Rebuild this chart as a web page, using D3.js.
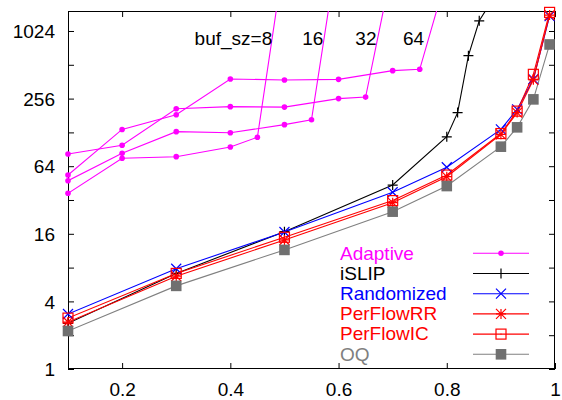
<!DOCTYPE html>
<html><head><meta charset="utf-8">
<script src="https://cdn.jsdelivr.net/npm/d3@7"></script>
<style>body{margin:0;background:#fff}svg{display:block}text{font-family:"Liberation Sans",Arial,sans-serif;font-size:19px}</style>
</head><body>
<script>
// ---- data ----
const xTickValues = [0.2, 0.4, 0.6, 0.8, 1];
const xTickLabels = ["0.2", "0.4", "0.6", "0.8", "1"];
const yTickValues = [1, 2, 4, 8, 16, 32, 64, 128, 256, 512, 1024];
const yLabelValues = [1, 4, 16, 64, 256, 1024];

const seriesNames = ["Adaptive", "iSLIP", "Randomized", "PerFlowRR", "PerFlowIC", "OQ"];
const seriesColors = ["#ff00ff", "#000000", "#0000ff", "#ff0000", "#ff0000", "#808080"];
const seriesMarkers = ["dot", "plus", "cross", "star", "square", "fsquare"];

const loads = [0.1, 0.3, 0.5, 0.7, 0.8, 0.9, 0.93, 0.96, 0.99];
const randomized = [3.09, 7.82, 16.6, 37.5, 62.6, 136, 205, 382, 1390];
const perFlowRR = [2.62, 6.7, 14.1, 30.3, 51.6, 123, 192, 376, 1420];
const perFlowIC = [2.84, 7.1, 14.9, 31.6, 53.4, 125, 198, 421, 1500];
const oq = [2.18, 5.5, 11.5, 25.2, 42.6, 95.5, 142, 252, 777];

const islipLoads = [0.1, 0.3, 0.5, 0.7, 0.8, 0.82, 0.84, 0.86, 0.88];
const islip = [2.55, 7.1, 16.7, 43.5, 117, 192, 617, 1262, 1800];

const bufSizes = [8, 16, 32, 64];
const bufLabels = ["buf_sz=8", "16", "32", "64"];
const bufLabelX = [0.334, 0.533, 0.631, 0.719];
const adaptiveLoads8 = [0.1, 0.2, 0.3, 0.4, 0.45, 0.5];
const adaptive8 = [36.7, 75.3, 77.8, 94.9, 115.8, 4800];
const adaptiveLoads16 = [0.1, 0.2, 0.3, 0.4, 0.5, 0.55, 0.6];
const adaptive16 = [47.5, 83.3, 130, 127, 150, 166, 6000];
const adaptiveLoads32 = [0.1, 0.2, 0.3, 0.4, 0.5, 0.6, 0.65, 0.7];
const adaptive32 = [82.2, 98.2, 208, 217, 215, 256, 264, 3960];
const adaptiveLoads64 = [0.1, 0.2, 0.3, 0.4, 0.5, 0.6, 0.7, 0.75, 0.8];
const adaptive64 = [53.4, 136, 184, 383, 375, 380, 454, 467, 3190];

// ---- layout ----
const W = 562, H = 400;
const m = {left: 68, right: 7, top: 11, bottom: 31};
const svg = d3.select("body").append("svg").attr("width", W).attr("height", H);

const x = d3.scaleLinear().domain([0.1, 1]).range([m.left, W - m.right]);
const y = d3.scaleLog().base(2).domain([1, 1543]).range([H - m.bottom, m.top]);

svg.append("defs").append("clipPath").attr("id", "clip")
  .append("rect").attr("x", m.left).attr("y", m.top)
  .attr("width", W - m.left - m.right).attr("height", H - m.top - m.bottom);

// axes (ticks inward, on all four sides)
const tl = 6;
const axB = d3.axisBottom(x).tickValues(xTickValues).tickSize(-tl).tickPadding(tl + 10)
  .tickFormat((d, i) => xTickLabels[i]);
const axT = d3.axisTop(x).tickValues(xTickValues).tickSize(-tl).tickFormat("");
const axL = d3.axisLeft(y).tickValues(yTickValues).tickSize(-tl).tickPadding(tl + 13)
  .tickFormat(d => yLabelValues.includes(d) ? String(d) : "");
const axR = d3.axisRight(y).tickValues(yTickValues).tickSize(-tl).tickFormat("");

function styleAxis(g) {
  g.select(".domain").remove();
  g.selectAll("line").attr("stroke", "#000");
  g.selectAll("text").attr("fill", "#000").style("font-size", "19px");
}
svg.append("g").attr("transform", `translate(0,${H - m.bottom})`).call(axB).call(styleAxis)
  .selectAll("text").attr("dy", null).attr("y", 27);
svg.append("g").attr("transform", `translate(0,${m.top})`).call(axT).call(styleAxis);
svg.append("g").attr("transform", `translate(${m.left},0)`).call(axL).call(styleAxis)
  .selectAll("text").attr("x", -13).attr("dy", "0.35em");
svg.append("g").attr("transform", `translate(${W - m.right},0)`).call(axR).call(styleAxis);

svg.append("rect").attr("x", m.left + 0.5).attr("y", m.top + 0.5)
  .attr("width", W - m.left - m.right - 1).attr("height", H - m.top - m.bottom - 1)
  .attr("fill", "none").attr("stroke", "#000").attr("stroke-width", 1);

// markers
const markerColor = c => c === "#808080" ? "#707070" : c;
function drawMarker(g, type, cx, cy, color) {
  const s = 5;
  const col = markerColor(color);
  if (type === "dot") {
    g.append("circle").attr("cx", cx).attr("cy", cy).attr("r", 2.8).attr("fill", col);
  } else if (type === "plus" || type === "cross" || type === "star") {
    const p = d3.path();
    if (type !== "cross") { p.moveTo(cx - s, cy); p.lineTo(cx + s, cy); p.moveTo(cx, cy - s); p.lineTo(cx, cy + s); }
    if (type !== "plus") { p.moveTo(cx - s, cy - s); p.lineTo(cx + s, cy + s); p.moveTo(cx - s, cy + s); p.lineTo(cx + s, cy - s); }
    g.append("path").attr("d", p.toString()).attr("stroke", col).attr("stroke-width", 1.2).attr("fill", "none");
  } else if (type === "square") {
    g.append("rect").attr("x", cx - s).attr("y", cy - s).attr("width", 2 * s).attr("height", 2 * s)
      .attr("fill", "none").attr("stroke", col).attr("stroke-width", 1.2);
    g.append("rect").attr("x", cx - 0.5).attr("y", cy - 0.5).attr("width", 1).attr("height", 1).attr("fill", col);
  } else if (type === "fsquare") {
    g.append("rect").attr("x", cx - 5.3).attr("y", cy - 5.3).attr("width", 10.6).attr("height", 10.6).attr("fill", col);
  }
}

const line = d3.line().x(d => x(d[0])).y(d => y(d[1]));
const plotLines = svg.append("g").attr("clip-path", "url(#clip)");
const plotMarks = svg.append("g");

function drawSeries(xs, ys, idx) {
  const pts = xs.map((v, i) => [v, ys[i]]);
  const col = seriesColors[idx];
  plotLines.append("path").attr("d", line(pts)).attr("fill", "none")
    .attr("stroke", col).attr("stroke-width", 1.1);
  pts.filter(p => p[1] <= y.domain()[1]).forEach(p => drawMarker(plotMarks, seriesMarkers[idx], x(p[0]), y(p[1]), col));
}

// draw order: adaptive, islip, randomized, perflowRR, perflowIC, oq
drawSeries(adaptiveLoads8, adaptive8, 0);
drawSeries(adaptiveLoads16, adaptive16, 0);
drawSeries(adaptiveLoads32, adaptive32, 0);
drawSeries(adaptiveLoads64, adaptive64, 0);
drawSeries(islipLoads, islip, 1);
drawSeries(loads, randomized, 2);
drawSeries(loads, perFlowRR, 3);
drawSeries(loads, perFlowIC, 4);
drawSeries(loads, oq, 5);

// buffer labels
bufLabels.forEach((t, i) => {
  svg.append("text").attr("x", x(bufLabelX[i])).attr("y", 44.5).attr("fill", "#000").text(t);
});

// legend
const legTop = 253.3, legStep = 20.2, legTextX = 340, legX0 = 473, legX1 = 529;
seriesNames.forEach((name, i) => {
  const ly = legTop + i * legStep;
  svg.append("text").attr("x", legTextX).attr("y", ly).attr("dy", "0.33em")
    .attr("fill", seriesColors[i]).text(name);
  svg.append("line").attr("x1", legX0).attr("x2", legX1).attr("y1", ly).attr("y2", ly)
    .attr("stroke", seriesColors[i]).attr("stroke-width", 1.1);
  drawMarker(svg, seriesMarkers[i], (legX0 + legX1) / 2, ly, seriesColors[i]);
});
</script>
</body></html>
